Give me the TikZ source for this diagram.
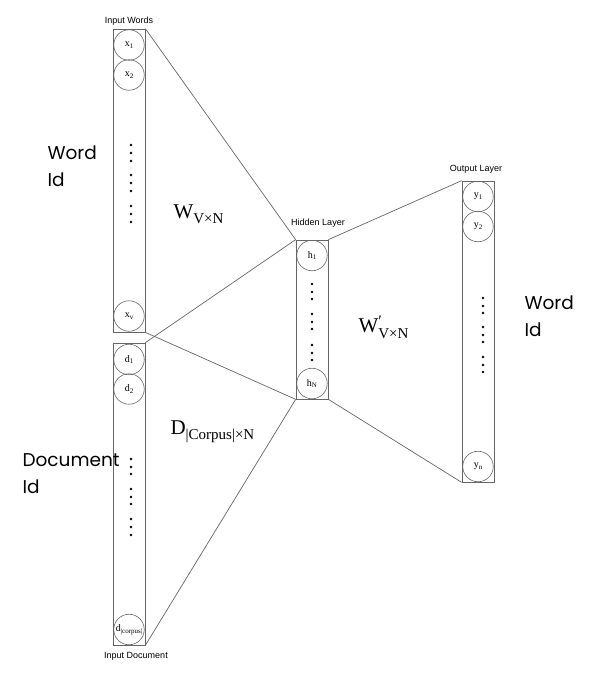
\documentclass[tikz,border=0pt]{standalone}
\usepackage{fontspec}
\setmainfont{Liberation Serif}
\newfontfamily\labfont{Liberation Sans}
\newfontfamily\bigfont{Poppins}
\newcommand{\mysub}[1]{\raisebox{-1.6pt}{\fontsize{7}{7}\selectfont #1}}
\begin{document}
\begin{tikzpicture}[x=1pt,y=-1pt,
  layer/.style={draw=black!60,line width=0.7pt,minimum width=32pt,inner sep=0pt},
  unit/.style={draw=black!60,line width=0.6pt,circle,minimum size=30.5pt,inner sep=0pt,font=\fontsize{10}{10}\selectfont},
  conn/.style={draw=black!60,line width=0.7pt},
  dotm/.style={circle,fill=black,inner sep=0pt,minimum size=2.6pt},
  small/.style={font=\labfont\fontsize{9}{9}\selectfont},
  side/.style={font=\bigfont\fontsize{18.5}{27}\selectfont,align=left,anchor=west},
  wlab/.style={font=\fontsize{21}{21}\selectfont,anchor=west}]
\useasboundingbox (0,0) rectangle (593,677);
\fill[white] (0,0) rectangle (593,677);
% layers
\node[layer,minimum height=303pt] (inw) at (129,180.5) {};
\node[layer,minimum height=302pt] (doc) at (129,494) {};
\node[layer,minimum height=159pt] (hid) at (312,319.5) {};
\node[layer,minimum height=301pt] (out) at (478,331.5) {};
% units
\node[unit] (x1) at (129,45) {x\mysub{1}};
\node[unit] (x2) at (129,75) {x\mysub{2}};
\node[unit] (xv) at (129,316) {x\mysub{v}};
\node[unit] (d1) at (129,359.5) {d\mysub{1}};
\node[unit] (d2) at (129,389) {d\mysub{2}};
\node[unit] (dc) at (129,629.5) {d\mysub{|corpus|}};
\node[unit] (h1) at (312,255.5) {h\mysub{1}};
\node[unit] (hN) at (312,383.5) {h\mysub{N}};
\node[unit] (y1) at (478,196.5) {y\mysub{1}};
\node[unit] (y2) at (478,226.5) {y\mysub{2}};
\node[unit] (yn) at (478,466.5) {y\mysub{n}};
% dots
\foreach \y [count=\i] in {145,153,161,175,183,191,206,214,222}
  \node[dotm] (ia\i) at (131,\y) {};
\foreach \y [count=\i] in {459,467,474,489,497,504,519,527,535}
  \node[dotm] (da\i) at (131,\y) {};
\foreach \y [count=\i] in {284,292,299,314,322,329,345,353,360}
  \node[dotm] (ha\i) at (312,\y) {};
\foreach \y [count=\i] in {298,306,313,327,335,342,357,365,372}
  \node[dotm] (oa\i) at (483,\y) {};
% connectors
\draw[conn] (inw.north east) -- (hid.north west);
\draw[conn] (inw.south east) -- (hid.south west);
\draw[conn] (doc.north east) -- (hid.north west);
\draw[conn] (doc.south east) -- (hid.south west);
\draw[conn] (hid.north east) -- (out.north west);
\draw[conn] (hid.south east) -- (out.south west);
% small labels
\node[small] (tIW) at (129,21) {Input Words};
\node[small] (tID) at (136,656) {Input Document};
\node[small] (tHL) at (318,223) {Hidden Layer};
\node[small] (tOL) at (476,169) {Output Layer};
% side labels
\node[side] (lw) at (44,166.5) {Word\\Id};
\node[side] (ld) at (19,473.5) {Document\\Id};
\node[side] (rw) at (521,316) {Word\\Id};
% weight labels
\node[wlab] (wvn) at (170,214) {W\raisebox{-5pt}{\fontsize{15}{15}\selectfont V×N}};
\node[wlab] (dcn) at (167,432) {D\raisebox{-5pt}{\fontsize{15}{15}\selectfont |Corpus|×N}};
\node[wlab] (wpvn) at (355,327) {W\makebox[0pt][l]{\raisebox{6pt}{\fontsize{16}{16}\selectfont ′}}\raisebox{-6pt}{\fontsize{15}{15}\selectfont V×N}};
\end{tikzpicture}
\end{document}
